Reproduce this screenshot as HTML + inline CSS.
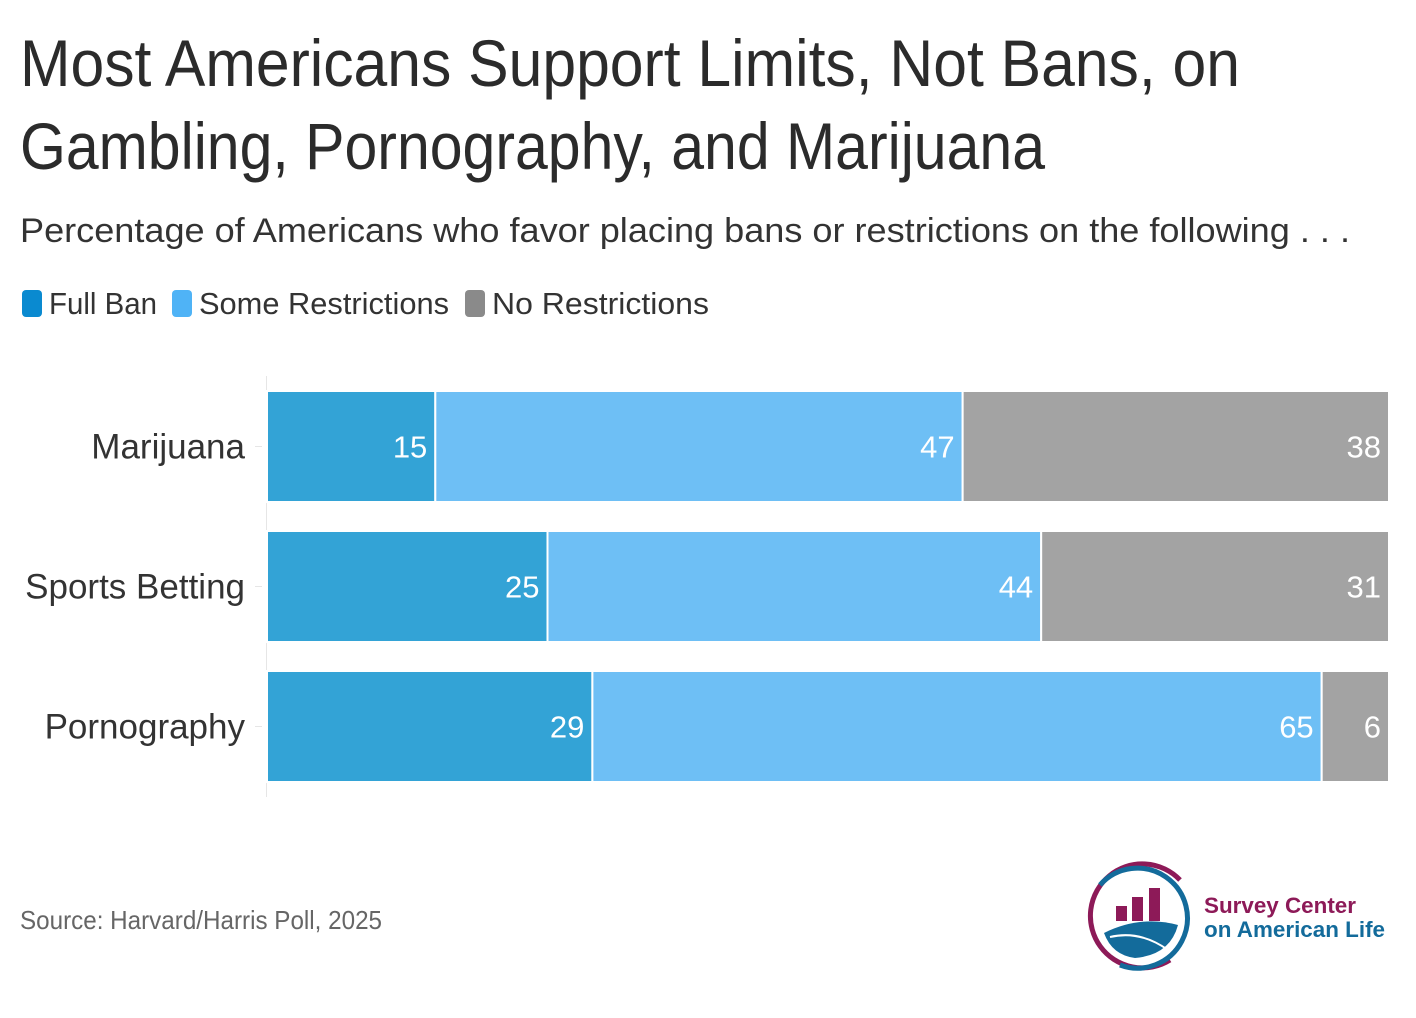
<!DOCTYPE html>
<html><head><meta charset="utf-8"><style>
html,body{margin:0;padding:0;background:#fff;}
svg{display:block;font-family:"Liberation Sans",sans-serif;}
</style></head><body>
<svg id="chart" width="1416" height="1018" viewBox="0 0 1416 1018">
<text x="20" y="86" font-size="66" fill="#2b2b2b" textLength="1220" lengthAdjust="spacingAndGlyphs">Most Americans Support Limits, Not Bans, on</text>
<text x="20" y="169" font-size="66" fill="#2b2b2b" textLength="1025" lengthAdjust="spacingAndGlyphs">Gambling, Pornography, and Marijuana</text>
<text x="20" y="242" font-size="34" fill="#333" textLength="1330" lengthAdjust="spacingAndGlyphs">Percentage of Americans who favor placing bans or restrictions on the following . . .</text>
<g>
<rect x="22" y="290" width="20" height="27" rx="4" fill="#0a8ad0"/>
<text x="49" y="314" font-size="31" fill="#333" textLength="108" lengthAdjust="spacingAndGlyphs">Full Ban</text>
<rect x="172" y="290" width="20" height="27" rx="4" fill="#4fb3f6"/>
<text x="199" y="314" font-size="31" fill="#333" textLength="250" lengthAdjust="spacingAndGlyphs">Some Restrictions</text>
<rect x="465" y="290" width="20" height="27" rx="4" fill="#8a8a8a"/>
<text x="492" y="314" font-size="31" fill="#333" textLength="217" lengthAdjust="spacingAndGlyphs">No Restrictions</text>
</g>
<line x1="266.5" y1="376" x2="266.5" y2="797" stroke="#e6e6e6" stroke-width="1"/>
<g id="bars"></g>
<text x="20" y="929" font-size="26" fill="#666" textLength="362" lengthAdjust="spacingAndGlyphs">Source: Harvard/Harris Poll, 2025</text>
<g>
<path d="M1180 880 A52 52 0 1 0 1170 960" fill="none" stroke="#8d1a58" stroke-width="5"/>
<path d="M1100 885 A50 50 0 1 1 1120 965" fill="none" stroke="#136b9b" stroke-width="5"/>
<rect x="1116" y="906" width="11" height="15" fill="#8d1a58"/>
<rect x="1132" y="897" width="11" height="24" fill="#8d1a58"/>
<rect x="1149" y="888" width="11" height="33" fill="#8d1a58"/>
<path d="M1104 933 Q1140 915 1178 925 Q1170 955 1135 958 Q1112 955 1104 933 Z" fill="#136b9b"/>
<path d="M1110 937 Q1140 930 1168 950" stroke="#fff" stroke-width="2" fill="none"/>
<text x="1204" y="913" font-size="22" font-weight="bold" fill="#8d1a58" textLength="152" lengthAdjust="spacingAndGlyphs">Survey Center</text>
<text x="1204" y="937" font-size="22" font-weight="bold" fill="#136b9b" textLength="181" lengthAdjust="spacingAndGlyphs">on American Life</text>
</g>
</svg>
<script>
const categories = ["Marijuana", "Sports Betting", "Pornography"];
const fullBan = [15, 25, 29];
const someRestrictions = [47, 44, 65];
const noRestrictions = [38, 31, 6];
const seriesNames = ["full-ban", "some-restrictions", "no-restrictions"];
const colors = ["#33a3d6", "#6ebff5", "#a3a3a3"];
const NS = "http://www.w3.org/2000/svg";
const x0 = 267, x1 = 1389;
function xs(v){ return x0 + (x1 - x0) * v / 100; }
const bandTop = 376, bandStep = 140, barH = 111, barOff = 15;
function yb(i){ return bandTop + i * bandStep + barOff; }
const g = document.getElementById("bars");
const series = [fullBan, someRestrictions, noRestrictions];
categories.forEach((cat, i) => {
  const cy = yb(i) + barH / 2;
  const lbl = document.createElementNS(NS, "text");
  lbl.setAttribute("x", 245); lbl.setAttribute("y", cy + 12);
  lbl.setAttribute("text-anchor", "end"); lbl.setAttribute("font-size", "35");
  lbl.setAttribute("fill", "#333");
  lbl.textContent = cat;
  
  
  g.appendChild(lbl);
  const tk = document.createElementNS(NS, "line");
  tk.setAttribute("x1", 255); tk.setAttribute("x2", 262);
  tk.setAttribute("y1", cy); tk.setAttribute("y2", cy);
  tk.setAttribute("stroke", "#e6e6e6");
  
  
  g.appendChild(tk);
  let acc = 0;
  series.forEach((s, k) => {
    const v = s[i];
    const r = document.createElementNS(NS, "rect");
    r.setAttribute("x", xs(acc)); r.setAttribute("y", yb(i));
    r.setAttribute("width", xs(acc + v) - xs(acc)); r.setAttribute("height", barH);
    r.setAttribute("fill", colors[k]); r.setAttribute("stroke", "#fff"); r.setAttribute("stroke-width", "2");
    
    
    g.appendChild(r);
    const t = document.createElementNS(NS, "text");
    t.setAttribute("x", xs(acc + v) - 8); t.setAttribute("y", cy + 11);
    t.setAttribute("text-anchor", "end"); t.setAttribute("font-size", "31");
    t.setAttribute("fill", "#fff");
    t.textContent = v;
    
    
    g.appendChild(t);
    acc += v;
  });
});
</script>
</body></html>
